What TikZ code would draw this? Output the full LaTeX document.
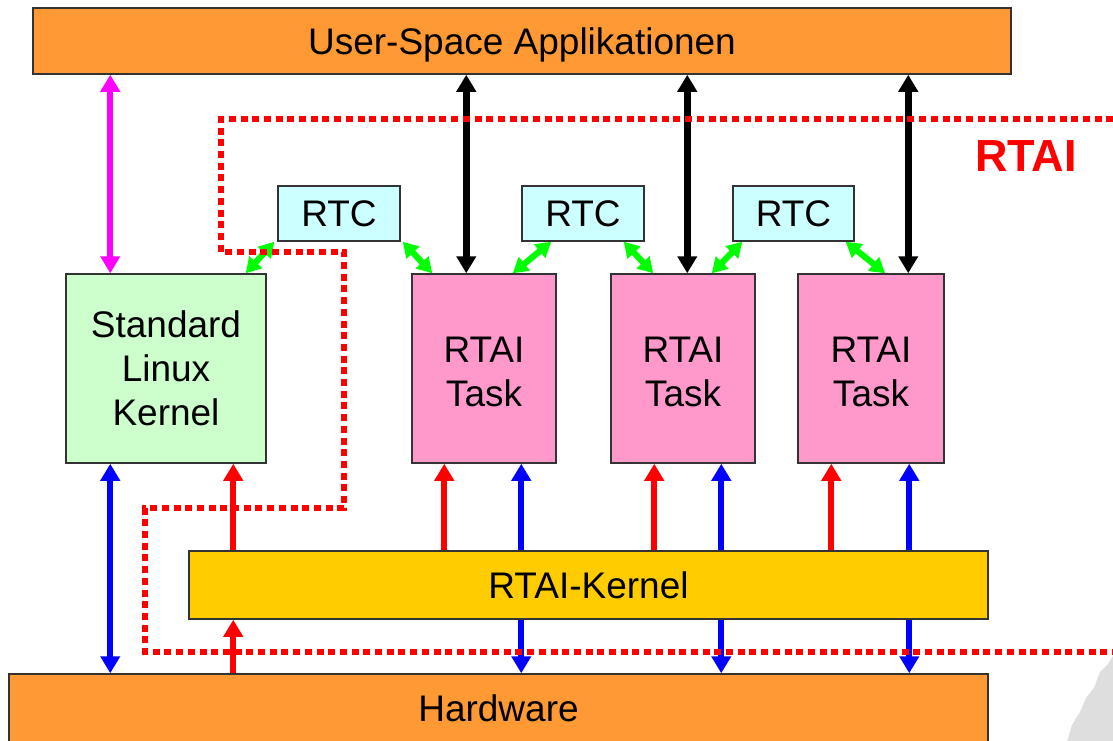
\documentclass[tikz,border=0pt]{standalone}
\usepackage{fontspec}
\setmainfont{Liberation Sans}
\usetikzlibrary{arrows.meta,calc}
\definecolor{orng}{HTML}{FF9933}
\definecolor{lingreen}{HTML}{CCFFCC}
\definecolor{taskpink}{HTML}{FF99CC}
\definecolor{rtccyan}{HTML}{CCFFFF}
\definecolor{krnyellow}{HTML}{FFCC00}
\definecolor{boxline}{HTML}{333333}
\definecolor{arrmag}{HTML}{FF00FF}
\definecolor{arrgreen}{HTML}{00FF00}
\definecolor{arrblue}{HTML}{0000FF}
\definecolor{arrred}{HTML}{FF0000}
\definecolor{wmgray}{HTML}{DEDEDE}
\newcommand{\tasklabel}{\rule{0pt}{16.5pt}RTAI\\Task}
\tikzset{
  tri/.tip={Triangle[width=9.5pt,length=8.5pt]},
  gtri/.tip={Triangle[width=8.5pt,length=7.5pt]},
  box/.style={draw=boxline, line width=0.75pt, inner sep=0pt, align=center,
    font=\fontsize{18.5}{22}\selectfont},
  oneline/.style={text height=13.2pt, text depth=-1pt},
  blk/.style={draw=black, line width=3.5pt, tri-tri},
  mag/.style={draw=arrmag, line width=3.2pt, tri-tri},
  bluedbl/.style={draw=arrblue, line width=3.2pt, tri-tri},
  redup/.style={draw=arrred, line width=3.2pt, -tri},
  grn/.style={draw=arrgreen, line width=3.1pt, gtri-gtri},
  border/.style={draw=arrred, line width=3.4pt, dash pattern=on 3.5pt off 2.35pt}
}
\begin{document}
\begin{tikzpicture}[x=0.5pt,y=-0.5pt]
\useasboundingbox (0,0) rectangle (1113,740);
\fill[white] (0,0) rectangle (1113,740);
% watermark fragment
\fill[wmgray] (1066,745) -- (1072,725) -- (1080,712) -- (1086,698) -- (1094,688) -- (1100,672) -- (1108,664) -- (1113,656) -- (1120,650) -- (1120,745) -- cycle;

% boxes
\node[box, oneline, fill=orng, minimum width=489pt, minimum height=33pt] (usr) at (522,41) {User-Space Applikationen};
\node[box, oneline, fill=orng, minimum width=489.5pt, minimum height=34pt] (hw) at (498.5,708) {Hardware};
\node[box, fill=lingreen, minimum width=100pt, minimum height=94.5pt] (lin) at (166,368.5) {Standard\\Linux\\Kernel};
\node[box, fill=taskpink, minimum width=72pt, minimum height=94.5pt] (t1) at (484,368.5) {\tasklabel};
\node[box, fill=taskpink, minimum width=72pt, minimum height=94.5pt] (t2) at (683,368.5) {\tasklabel};
\node[box, fill=taskpink, minimum width=73pt, minimum height=94.5pt] (t3) at (871,368.5) {\tasklabel};
\node[box, oneline, fill=rtccyan, minimum width=61pt, minimum height=27.5pt] (rtc1) at (339,213.5) {RTC};
\node[box, oneline, fill=rtccyan, minimum width=61pt, minimum height=27.5pt] (rtc2) at (583,213.5) {RTC};
\node[box, oneline, fill=rtccyan, minimum width=60.5pt, minimum height=27.5pt] (rtc3) at (793.5,213.5) {RTC};

% reference coordinates for vertical connectors
\coordinate (m1) at ($(lin.north west)+(45,0)$);
\coordinate (k1) at ($(t1.north west)+(55,0)$);
\coordinate (k2) at ($(t2.north west)+(77,0)$);
\coordinate (k3) at ($(t3.north west)+(111,0)$);
\coordinate (b0) at ($(lin.south west)+(45,0)$);
\coordinate (b1) at ($(t1.south west)+(110,0)$);
\coordinate (b2) at ($(t2.south west)+(111,0)$);
\coordinate (b3) at ($(t3.south west)+(112,0)$);
\coordinate (r0) at ($(lin.south west)+(168,0)$);
\coordinate (r1) at ($(t1.south west)+(33,0)$);
\coordinate (r2) at ($(t2.south west)+(44,0)$);
\coordinate (r3) at ($(t3.south west)+(34,0)$);

% blue arrows (behind the RTAI-Kernel)
\draw[bluedbl] (b0) -- (b0 |- hw.north);
\draw[bluedbl] (b1) -- (b1 |- hw.north);
\draw[bluedbl] (b2) -- (b2 |- hw.north);
\draw[bluedbl] (b3) -- (b3 |- hw.north);

\node[box, oneline, fill=krnyellow, minimum width=399.5pt, minimum height=34pt] (krn) at (588.5,585) {RTAI-Kernel};

% user space arrows
\draw[mag] (m1 |- usr.south) -- (m1);
\draw[blk] (k1 |- usr.south) -- (k1);
\draw[blk] (k2 |- usr.south) -- (k2);
\draw[blk] (k3 |- usr.south) -- (k3);

% red arrows
\draw[redup] (r0 |- krn.north) -- (r0);
\draw[redup] (r0 |- hw.north) -- (r0 |- krn.south);
\draw[redup] (r1 |- krn.north) -- (r1);
\draw[redup] (r2 |- krn.north) -- (r2);
\draw[redup] (r3 |- krn.north) -- (r3);

% green RTC arrows
\draw[grn] ($(rtc1.south west)+(-3,0)$) -- ($(lin.north east)+(-21,0)$);
\draw[grn] ($(rtc1.south east)+(2,0)$) -- ($(t1.north west)+(21,0)$);
\draw[grn] ($(t1.north east)+(-44,0)$) -- ($(rtc2.south west)+(30,0)$);
\draw[grn] ($(rtc2.south east)+(-21,0)$) -- ($(t2.north west)+(43,0)$);
\draw[grn] ($(t2.north east)+(-44,0)$) -- ($(rtc3.south west)+(10,0)$);
\draw[grn] ($(rtc3.south east)+(-9,0)$) -- ($(t3.north west)+(88,0)$);

% RTAI boundary
\coordinate (d0) at (1125,119);
\coordinate (d1) at (221,119);
\coordinate (d2) at (221,252);
\coordinate (d3) at (344,252);
\coordinate (d4) at (344,508);
\coordinate (d5) at (145,508);
\coordinate (d6) at (145,652);
\coordinate (d7) at (1125,652);
\draw[border] (d0) -- (d1) -- (d2) -- (d3) -- (d4) -- (d5) -- (d6) -- (d7);

\node[text=arrred, font=\fontsize{22.5}{27}\selectfont\bfseries] (rtai) at (1026,156) {RTAI};
\end{tikzpicture}
\end{document}
